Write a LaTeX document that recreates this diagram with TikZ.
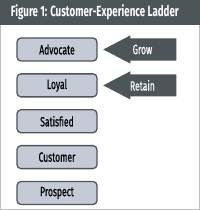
\documentclass[tikz,border=0pt]{standalone}
\usepackage{fontspec}
\setmainfont[FakeStretch=0.68, BoldFeatures={FakeStretch=0.66}]{Fira Sans}
\newfontfamily\ladderfont[FakeStretch=0.64, FakeBold=0.6]{Fira Sans}
\usepackage{xcolor}
\usepackage{tikz}
\usetikzlibrary{shapes.arrows, positioning}
\definecolor{ladderdark}{RGB}{76, 86, 89}
\definecolor{ladderfill}{RGB}{196, 202, 214}
\definecolor{ladderline}{RGB}{80, 84, 90}
\definecolor{frameline}{RGB}{190, 190, 190}
\tikzset{
    rung/.style={rectangle, rounded corners=0.1cm, draw=ladderline, fill=ladderfill, line width=0.9pt, minimum width=2cm, minimum height=0.575cm, text centered, font=\ladderfont\fontsize{9.5}{10}\selectfont},
    pointer/.style={single arrow, shape border rotate=180, fill=ladderdark, single arrow head extend=0.075cm, single arrow tip angle=55, text height=0.2cm, text depth=0cm, inner ysep=0.17cm, minimum height=1.825cm},
    pointerlabel/.style={text=white, xshift=-0.2cm, font=\ladderfont\fontsize{9.5}{10}\selectfont},
    titlebar/.style={anchor=west, text=white, font=\fontsize{10.5}{12}\selectfont\bfseries}
}
\begin{document}
\begin{tikzpicture}[x=0.025cm, y=-0.025cm, node distance=0.29cm]
    \useasboundingbox (0,0) rectangle (200,210);
    \draw [frameline, line width=1.2pt] (0.6,0.6) rectangle (199.4,209.4);
    \fill [ladderdark] (0,0) rectangle (200,25);
    \node (title) [titlebar] at (6,12.5) {Figure 1: Customer-Experience Ladder};

    \node (advocate) [rung] at (57,49.5) {Advocate};
    \node (loyal) [rung, below=of advocate] {Loyal};
    \node (satisfied) [rung, below=of loyal] {Satisfied};
    \node (customer) [rung, below=of satisfied] {Customer};
    \node (prospect) [rung, below=of customer] {Prospect};

    \node (grow) [pointer, right=0.125cm of advocate, label={[pointerlabel]center:Grow}] {\mbox{}};
    \node (retain) [pointer, right=0.125cm of loyal, label={[pointerlabel]center:Retain}] {\mbox{}};
\end{tikzpicture}
\end{document}
